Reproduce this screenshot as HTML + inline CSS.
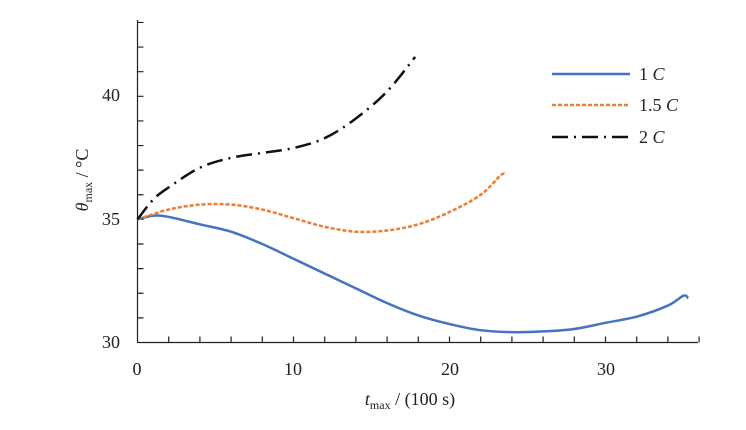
<!DOCTYPE html>
<html><head><meta charset="utf-8"><style>
body{margin:0;background:#fff;width:746px;height:425px;overflow:hidden}
text{font-family:"Liberation Serif",serif;fill:#222}
</style></head><body>
<svg id="s" width="746" height="425" xmlns="http://www.w3.org/2000/svg">
<g stroke="#222" stroke-width="1.2" fill="none" id="ax">
<path d="M137.5 20 V342.5 H698"/>
</g>
<g font-size="18" text-anchor="end">
<text x="120" y="348">30</text>
<text x="120" y="225">35</text>
<text x="120" y="101">40</text>
</g>
<g font-size="18" text-anchor="middle">
<text x="137" y="375">0</text>
<text x="293" y="375">10</text>
<text x="450" y="375">20</text>
<text x="606" y="375">30</text>
</g>
<text x="410" y="405" font-size="18" text-anchor="middle"><tspan font-style="italic">t</tspan><tspan font-size="12" dy="4">max</tspan><tspan dy="-4"> / (100 s)</tspan></text>
<text transform="translate(88,180) rotate(-90)" font-size="18" text-anchor="middle"><tspan font-style="italic">θ</tspan><tspan font-size="12" dy="4">max</tspan><tspan dy="-4"> / °C</tspan></text>
<g id="series" fill="none" stroke-width="2.5"></g>
<line x1="552" y1="74" x2="630" y2="74" stroke="#4472c4" stroke-width="2.5"/>
<line x1="552" y1="105" x2="630" y2="105" stroke="#ed7d31" stroke-width="2.5" stroke-dasharray="4,2"/>
<line x1="552" y1="137" x2="630" y2="137" stroke="#111" stroke-width="2.5" stroke-dasharray="16,6,2,6"/>
<g font-size="18">
<text x="639" y="80">1 <tspan font-style="italic">C</tspan></text>
<text x="639" y="111">1.5 <tspan font-style="italic">C</tspan></text>
<text x="639" y="143">2 <tspan font-style="italic">C</tspan></text>
</g>
</svg>
<script>
var X=t=>137.5+15.6*t, Y=v=>342.5-24.62*(v-30);
var ax=document.getElementById('ax'),h='';
for(var v=31;v<=43;v++){h+='M137.5 '+Y(v)+' h6';}
for(var t=2;t<=36;t+=2){h+='M'+X(t)+' 342.5 v-6';}
var p=document.createElementNS('http://www.w3.org/2000/svg','path');p.setAttribute('d',h);ax.appendChild(p);
function path(d){var pts=d.map(a=>[X(a[0]),Y(a[1])]);var s='M'+pts[0];for(var i=0;i<pts.length-1;i++){var p0=pts[i-1]||pts[i],p1=pts[i],p2=pts[i+1],p3=pts[i+2]||p2;var c1=[p1[0]+(p2[0]-p0[0])/6,p1[1]+(p2[1]-p0[1])/6],c2=[p2[0]-(p3[0]-p1[0])/6,p2[1]-(p3[1]-p1[1])/6];s+='C'+c1+' '+c2+' '+p2;}return s;}
var S=[
[[[0,35],[1,35.15],[2,35.1],[4,34.8],[6,34.5],[8,34.0],[10,33.4],[12,32.8],[14,32.2],[16,31.6],[18,31.1],[20,30.75],[22,30.5],[24,30.42],[26,30.45],[28,30.55],[30,30.8],[32,31.05],[34,31.5],[35,31.9],[35.3,31.8]],'#4472c4',''],
[[[0,35],[2,35.4],[4,35.6],[6,35.6],[8,35.4],[10,35.05],[12,34.7],[14,34.5],[16,34.55],[18,34.8],[20,35.3],[22,36.0],[23.3,36.8],[23.6,36.8]],'#ed7d31','4,2'],
[[[0,35],[1,35.8],[2,36.3],[4,37.1],[6,37.5],[8,37.7],[10,37.9],[12,38.3],[14,39.1],[16,40.2],[17.8,41.6]],'#111','16,6,2,6']];
var g=document.getElementById('series');
S.forEach(s=>{var e=document.createElementNS('http://www.w3.org/2000/svg','path');e.setAttribute('d',path(s[0]));e.setAttribute('stroke',s[1]);if(s[2])e.setAttribute('stroke-dasharray',s[2]);g.appendChild(e);});
</script>
</body></html>
